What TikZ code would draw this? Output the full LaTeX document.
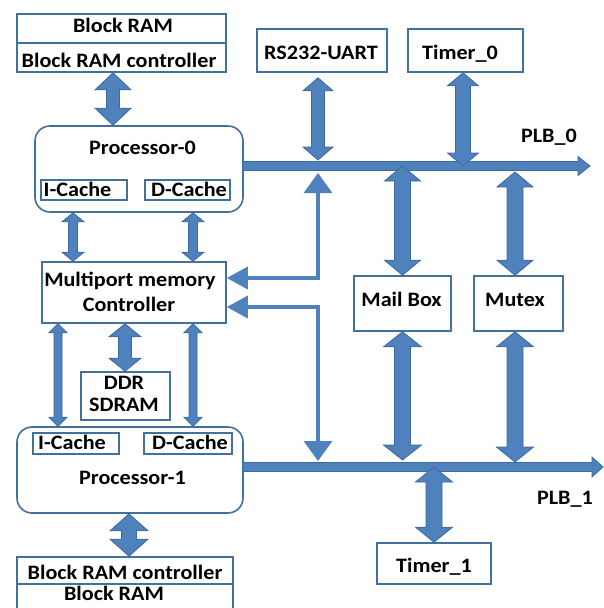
\documentclass[tikz,border=0pt]{standalone}
\usepackage{fontspec}
\setmainfont{Carlito}[FakeStretch=1.08]
\usetikzlibrary{arrows.meta,calc}

\definecolor{boxline}{HTML}{41719C}
\definecolor{arrowfill}{HTML}{4F81BD}
\definecolor{arrowline}{HTML}{3B6A9E}

\tikzset{
  box/.style={draw=boxline, line width=1.6pt, inner sep=0pt, fill=white},
  procbox/.style={box, rounded corners=15pt},
  lbl/.style={font=\fontsize{20.5}{22}\selectfont\bfseries, inner sep=0pt,
              text height=0.64em, text depth=0pt, yshift=-3pt},
  fat/.style={fill=arrowfill, draw=arrowline, line width=0.8pt, line join=miter},
  link/.style={draw=arrowfill, line width=3.5pt, line join=miter},
  tipside/.tip={Triangle[width=22pt,length=21pt]},
  tipbus/.tip={Triangle[width=28pt,length=20pt]}
}

% vertical double-headed block arrow; x taken from #1, y from #1 and #2
% #3 half shaft width, #4 half head width, #5 head length
\newcommand\vdbl[5]{%
  \filldraw[fat] let \p1=(#1), \p2=(#2),
      \n1={ifthenelse(\y2>\y1,1,-1)*#5} in
    (\x1,\y1) -- (\x1+#4,\y1+\n1) -- (\x1+#3,\y1+\n1) -- (\x1+#3,\y2-\n1)
    -- (\x1+#4,\y2-\n1) -- (\x1,\y2) -- (\x1-#4,\y2-\n1) -- (\x1-#3,\y2-\n1)
    -- (\x1-#3,\y1+\n1) -- (\x1-#4,\y1+\n1) -- cycle;}

% horizontal bus with a single head at #2
\newcommand\hbus[5]{%
  \filldraw[fat] let \p1=(#1), \p2=(#2) in
    (\x1,\y1+#3) -- (\x2-#5,\y1+#3) -- (\x2-#5,\y1+#4) -- (\x2,\y1)
    -- (\x2-#5,\y1-#4) -- (\x2-#5,\y1-#3) -- (\x1,\y1-#3) -- cycle;}

\begin{document}
\begin{tikzpicture}[x=1pt, y=-1pt]
  \useasboundingbox[fill=white] (0,0) rectangle (604,608);
  \clip (0,0) rectangle (604,608);

  % ---- boxes ----
  \node[box, minimum width=209pt, minimum height=58pt] (brt) at (121.5,43) {};
  \draw[boxline, line width=1.2pt] (brt.west) -- (brt.east);
  \node[box, minimum width=130pt, minimum height=43pt] (uart) at (322,50.5) {};
  \node[box, minimum width=115pt, minimum height=43pt] (tmr0) at (465.5,50.5) {};

  \node[procbox, minimum width=208pt, minimum height=86pt] (p0) at (139,169) {};
  \node[box, minimum width=86pt, minimum height=20pt] (ic0) at (84,190) {};
  \node[box, minimum width=85pt, minimum height=20pt] (dc0) at (187.5,190) {};

  \node[box, minimum width=184pt, minimum height=61pt] (ctrl) at (134,292.5) {};
  \node[box, minimum width=97pt, minimum height=55pt] (mbox) at (402.5,303.5) {};
  \node[box, minimum width=89pt, minimum height=55pt] (mutex) at (518.5,303.5) {};
  \node[box, minimum width=89pt, minimum height=48pt] (ddr) at (125.5,396) {};

  \node[procbox, minimum width=226pt, minimum height=86pt] (p1) at (130,470) {};
  \node[box, minimum width=86pt, minimum height=21pt] (ic1) at (76,443.5) {};
  \node[box, minimum width=88pt, minimum height=21pt] (dc1) at (188,443.5) {};

  \node[box, minimum width=114pt, minimum height=41pt] (tmr1) at (434,563.5) {};
  \node[box, minimum width=216pt, minimum height=54pt] (brb) at (125,584) {};
  \draw[boxline, line width=1.2pt] (brb.west) -- (brb.east);

  % ---- texts ----
  \node[lbl] (t-brt1) at (123,26) {Block RAM};
  \node[lbl] (t-brt2) at (119,61) {Block RAM controller};
  \node[lbl] (t-uart) at (321,53) {RS232-UART};
  \node[lbl] (t-tmr0) at (460,53) {Timer\_0};
  \node[lbl] (t-plb0) at (549,136) {PLB\_0};
  \node[lbl] (t-p0) at (142.5,148) {Processor-0};
  \node[lbl] (t-ic0) at (77.5,190) {I-Cache};
  \node[lbl] (t-dc0) at (189,190) {D-Cache};
  \node[lbl] (t-ctrl1) at (130,280) {Multiport memory};
  \node[lbl] (t-ctrl2) at (129,305) {Controller};
  \node[lbl] (t-mbox) at (401.5,300) {Mail Box};
  \node[lbl] (t-mutex) at (515,300) {Mutex};
  \node[lbl] (t-ddr1) at (124,383) {DDR};
  \node[lbl] (t-ddr2) at (124,405) {SDRAM};
  \node[lbl] (t-ic1) at (72,443) {I-Cache};
  \node[lbl] (t-dc1) at (190,443) {D-Cache};
  \node[lbl] (t-p1) at (132.5,478) {Processor-1};
  \node[lbl] (t-plb1) at (565,498) {PLB\_1};
  \node[lbl] (t-tmr1) at (434,566) {Timer\_1};
  \node[lbl] (t-brb1) at (125,573) {Block RAM controller};
  \node[lbl] (t-brb2) at (114,594) {Block RAM};

  % ---- buses ----
  \coordinate (plb0a) at (243,166);
  \coordinate (plb0b) at (590,166);
  \coordinate (plb1a) at (243,467);
  \coordinate (plb1b) at (603,467);
  \hbus{plb0a}{plb0b}{4.5pt}{9.5pt}{12pt}
  \hbus{plb1a}{plb1b}{4.5pt}{10pt}{11pt}

  % ---- block arrows ----
  \vdbl{$(brt.south)+(-8.5,0)$}{p0.north}{6.5pt}{18pt}{17pt}
  \vdbl{$(uart.south)+(-4,5)$}{$(plb0a)+(0,-6)$}{6.5pt}{15pt}{13pt}
  \vdbl{$(tmr0.south)+(-2.5,0)$}{plb0a}{7.5pt}{15.5pt}{13pt}
  \vdbl{mbox.north}{plb0a}{8pt}{18pt}{15pt}
  \vdbl{$(mutex.north)+(-3.5,0)$}{$(plb0a)+(0,6)$}{8pt}{18pt}{15pt}
  \vdbl{mbox.south}{$(plb1a)+(0,-7)$}{8pt}{19pt}{15pt}
  \vdbl{$(mutex.south)+(-3.5,0)$}{$(plb1a)+(0,-5)$}{8pt}{18.5pt}{15pt}
  \vdbl{tmr1.north}{plb1a}{8pt}{18.5pt}{15pt}
  \vdbl{$(p1.south)+(-1,0)$}{brb.north}{7.5pt}{19pt}{17pt}
  \vdbl{$(ddr.north)+(-0.5,0)$}{ctrl.south}{6.5pt}{16pt}{13pt}
  \vdbl{$(ic0.south |- p0.south)+(-11,0)$}{ctrl.north}{4.5pt}{11pt}{9pt}
  \vdbl{$(dc0.south |- p0.south)+(5.5,0)$}{ctrl.north}{4.5pt}{11pt}{9pt}
  \vdbl{$(ic1.north |- ctrl.south)+(-18,0)$}{p1.north}{4pt}{9pt}{9pt}
  \vdbl{$(dc1.north |- ctrl.south)+(5,0)$}{p1.north}{4pt}{9pt}{9pt}

  % ---- bus taps of the memory controller ----
  \coordinate (j0) at (318,173);
  \coordinate (j1) at (318,461);
  \draw[link, {tipside}-{tipbus}] ([yshift=14.5pt]ctrl.east) -| (j0);
  \draw[link, {tipside}-{tipbus}] ([yshift=-14.5pt]ctrl.east) -| (j1);
\end{tikzpicture}
\end{document}
